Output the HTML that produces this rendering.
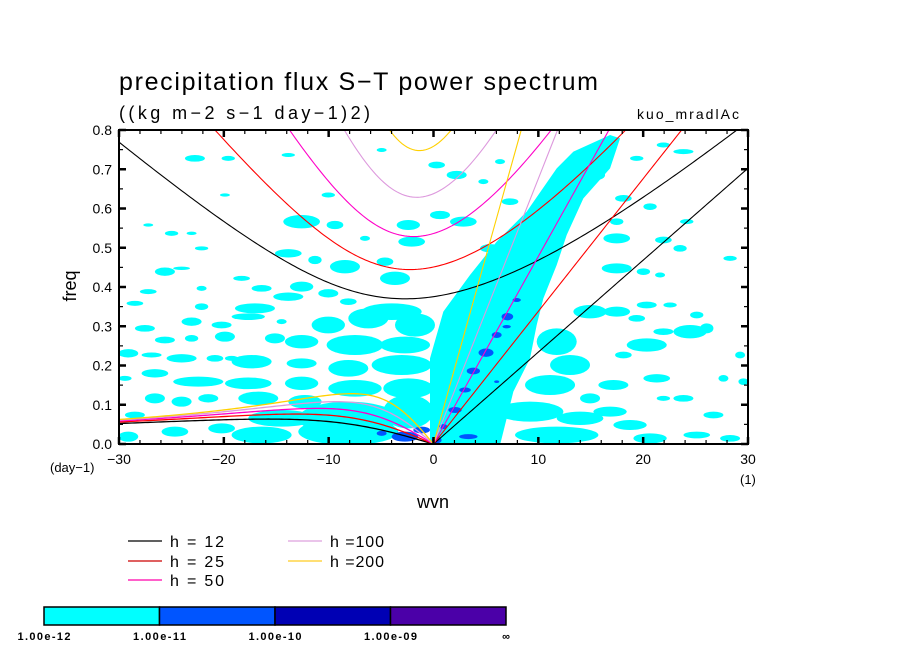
<!DOCTYPE html>
<html><head><meta charset="utf-8">
<style>
body{margin:0;background:#fff;}
svg{display:block;font-family:"Liberation Sans",sans-serif;}
</style></head>
<body>
<svg id="chart" width="904" height="654" viewBox="0 0 904 654" xmlns="http://www.w3.org/2000/svg">
<rect width="904" height="654" fill="#fff"/>
<defs><clipPath id="plotclip"><rect x="119" y="130" width="629" height="314"/></clipPath></defs>
<text x="119" y="90" font-size="25" textLength="479" lengthAdjust="spacing" fill="#000">precipitation flux S−T power spectrum</text>
<text x="119" y="119" font-size="18" textLength="251" lengthAdjust="spacing" fill="#000">((kg m−2 s−1 day−1)2)</text>
<text x="637" y="119" font-size="14" textLength="102" lengthAdjust="spacing" fill="#000">kuo_mradlAc</text>
<g id="field" clip-path="url(#plotclip)"></g>
<g id="curves" clip-path="url(#plotclip)"></g>
<g id="axes"></g>
<text x="0" y="0" font-size="18" transform="translate(76,286) rotate(-90)" text-anchor="middle">freq</text>
<text x="433" y="508" font-size="18" text-anchor="middle">wvn</text>
<text x="50" y="472" font-size="13">(day−1)</text>
<text x="740" y="484" font-size="13">(1)</text>
<g id="legend"></g>
<g id="colorbar"></g>
</svg>
<script>
// ---- data ----
var depths = [12, 25, 50, 100, 200];
var depthColors = ["#000000", "#ff0000", "#ff00c8", "#dd99dd", "#ffd000"];
var legendColors = ["#000000", "#cc0000", "#ff00aa", "#dda0dd", "#ffcc22"];
var legendLabels = ["h = 12", "h = 25", "h = 50", "h =100", "h =200"];
var xTicks = [-30, -20, -10, 0, 10, 20, 30];
var yTicks = [0.0, 0.1, 0.2, 0.3, 0.4, 0.5, 0.6, 0.7, 0.8];
var yTickLabels = ["0.0","0.1","0.2","0.3","0.4","0.5","0.6","0.7","0.8"];
var cbarColors = ["#00ffff", "#0055ff", "#0000b4", "#4b00a8"];
var cbarLabels = ["1.00e-12", "1.00e-11", "1.00e-10", "1.00e-09", "∞"];
// power field patches (reference-sampled): [x, y, w, h] in sample units
var fieldLeft = [[560,290,110,40],[660,300,50,25],[880,300,70,30],[890,350,80,30],[750,340,30,15],[520,385,80,25],[600,405,40,25],[810,410,50,25],[690,425,90,40],[840,460,90,40],[170,325,40,15],[230,325,30,10],[150,440,60,25],[200,430,50,10],[260,370,40,12],[380,460,50,15],[440,490,60,20],[560,485,70,30],[520,515,90,25],[640,505,60,25],[100,500,50,15],[260,490,30,15],[60,535,50,15],[260,545,40,20],[420,550,120,30],[700,530,50,20],[830,560,180,50],[230,590,60,25],[400,575,100,20],[320,600,60,20],[500,590,30,15],[640,600,100,50],[760,580,120,60],[900,600,120,70],[90,610,60,20],[150,645,60,20],[230,640,40,20],[330,635,60,30],[480,640,60,30],[560,650,100,40],[720,660,170,60],[870,660,150,50],[40,685,60,25],[110,690,60,15],[200,700,90,25],[300,700,50,20],[410,710,120,40],[560,715,90,30],[700,730,120,50],[860,720,180,60],[120,745,80,25],[250,770,150,30],[400,775,140,35],[560,775,100,40],[720,790,160,50],[880,790,150,60],[120,820,60,30],[200,830,60,30],[280,820,60,25],[430,820,120,40],[570,830,100,40],[60,870,60,20],[500,880,200,50],[700,880,300,100],[880,860,150,100],[40,935,60,30],[180,920,80,30],[320,910,80,30],[440,930,180,50],[700,920,300,80],[240,100,60,20],[340,100,40,15],[520,90,40,12],[800,75,30,12],[640,210,40,15],[330,210,30,10],[100,300,30,10],[350,700,40,15],[30,760,40,15]];
var fieldRight = [[380,650,120,80],[420,720,120,60],[360,780,150,60],[300,860,200,60],[450,880,140,40],[380,930,250,50],[540,860,100,30],[600,900,100,30],[650,660,120,40],[700,620,60,20],[780,620,100,40],[830,610,40,30],[560,560,80,30],[480,560,100,40],[650,540,60,20],[720,540,40,15],[800,570,40,20],[640,440,40,20],[690,450,30,15],[560,430,90,30],[560,340,80,30],[700,345,50,20],[770,290,40,15],[660,245,40,20],[580,220,50,20],[560,290,40,20],[500,150,50,30],[460,100,60,40],[620,100,40,15],[760,80,60,15],[700,60,40,15],[900,400,40,15],[930,690,30,20],[880,760,30,20],[760,820,60,20],[700,820,40,15],[850,870,60,20],[660,940,100,30],[800,930,80,20],[900,940,60,20],[940,770,30,20],[20,120,50,20],[80,150,60,25],[30,270,60,25],[180,370,60,25],[100,290,80,30],[240,230,50,20],[160,170,30,15],[210,110,30,15],[300,330,40,20],[330,290,40,20],[750,370,40,20],[620,580,50,20],[550,780,90,30],[480,820,60,30],[680,760,80,25],[580,690,50,20],[100,600,120,60],[60,800,120,80],[150,880,120,60],[60,680,80,40]];
var bandRight = [[0,960],[0,700],[40,560],[120,450],[200,350],[290,260],[380,130],[430,80],[540,30],[570,40],[540,130],[460,220],[410,330],[380,420],[340,520],[320,600],[300,700],[250,800],[210,960]];
var darkRight = [[260,525,25,12],[232,575,35,22],[230,605,25,10],[200,630,30,18],[168,683,45,25],[130,738,40,20],[105,795,35,15],[75,855,40,18],[40,905,25,15],[115,935,55,15],[20,945,30,20],[200,770,15,8]];
var darkLeft = [[870,935,80,30],[920,915,50,20],[800,925,30,15]];

// ---- axes ----
var X0=119, X1=748, Y0=444, Y1=130;
function xs(k){ return X0 + (k + 30) / 60 * (X1 - X0); }
function ys(f){ return Y0 - f / 0.8 * (Y0 - Y1); }
function sampK(X, off){ return (off + X/3 - 433.5) / 10.48; }
function sampF(Y){ return (444 - 125 - Y/3) / 392.5; }

var NS="http://www.w3.org/2000/svg";
function mk(tag, attrs, parent){
  var e=document.createElementNS(NS, tag);
  for (var a in attrs) e.setAttribute(a, attrs[a]);
  parent.appendChild(e); return e;
}
var field=document.getElementById('field');
function drawBlobs(list, off, color, name){
  list.forEach(function(b){
    var k=sampK(b[0],off), f=sampF(b[1]);
    var rk=b[2]/3/2/10.48, rf=b[3]/3/2/392.5;
    var e=mk('ellipse',{cx:xs(k),cy:ys(f),rx:xs(k+rk)-xs(k),ry:ys(f)-ys(f+rf),fill:color},field);
    
    
  });
}
drawBlobs(fieldLeft, 115, cbarColors[0], 'power-patch');
drawBlobs(fieldRight, 430, cbarColors[0], 'power-patch');
(function(){
  var pts=bandRight.map(function(p){ return xs(sampK(p[0],430))+','+ys(sampF(p[1])); }).join(' ');
  var e=mk('polygon',{points:pts,fill:cbarColors[0]},field);
  
  
})();
drawBlobs(darkRight, 430, cbarColors[1], 'strong-power-patch');
drawBlobs(darkLeft, 115, cbarColors[1], 'strong-power-patch');

// ---- dispersion curves ----
var g=9.81, a=6.371e6, Om=7.292e-5, beta=2*Om/a, toCpd=86400/(2*Math.PI);
function cubicRoot(kk, c, w){
  for (var i=0;i<60;i++){
    var F=w*w*w-(c*c*kk*kk+3*beta*c)*w-beta*c*c*kk;
    var D=3*w*w-(c*c*kk*kk+3*beta*c);
    if (Math.abs(D)<1e-30) break;
    w=w-F/D;
  }
  return w;
}
var curves=document.getElementById('curves');
depths.forEach(function(h, i){
  var c=Math.sqrt(g*h), col=depthColors[i];
  var ig=[], ro=[], kv=[];
  for (var s=-30; s<=30.001; s+=0.25){
    var kk=s/a;
    var w=cubicRoot(kk,c,Math.sqrt(c*c*kk*kk+3*beta*c)*1.2);
    ig.push(xs(s)+','+ys(w*toCpd));
    if (s<=0){
      var w0=-beta*kk/(kk*kk+3*beta/c);
      var wr=s===0?0:cubicRoot(kk,c,w0);
      ro.push(xs(s)+','+ys(wr*toCpd));
    }
    if (s>=0) kv.push(xs(s)+','+ys(c*kk*toCpd));
  }
  var e1=mk('polyline',{points:ig.join(' '),fill:'none',stroke:col,'stroke-width':1.1},curves);
  
  
  var e2=mk('polyline',{points:ro.join(' '),fill:'none',stroke:col,'stroke-width':1.3},curves);
  
  
  var e3=mk('polyline',{points:kv.join(' '),fill:'none',stroke:col,'stroke-width':1.1},curves);
  
  
});

// ---- axes frame & ticks ----
var axes=document.getElementById('axes');
var fr=mk('rect',{x:X0,y:Y1,width:X1-X0,height:Y0-Y1,fill:'none',stroke:'#000','stroke-width':2},axes);


for (var k=-30;k<=30;k+=2){
  var major=(k%10===0), L=major?7:4;
  mk('line',{x1:xs(k),x2:xs(k),y1:Y0,y2:Y0-L,stroke:'#000','stroke-width':major?2.5:1.2},axes);
  mk('line',{x1:xs(k),x2:xs(k),y1:Y1,y2:Y1+L,stroke:'#000','stroke-width':major?2.5:1.2},axes);
}
for (var j=0;j<=16;j++){
  var f=j*0.05, maj=(j%2===0), L2=maj?7:4;
  mk('line',{x1:X0,x2:X0+L2,y1:ys(f),y2:ys(f),stroke:'#000','stroke-width':maj?2.5:1.2},axes);
  mk('line',{x1:X1,x2:X1-L2,y1:ys(f),y2:ys(f),stroke:'#000','stroke-width':maj?2.5:1.2},axes);
}
xTicks.forEach(function(t){
  var e=mk('text',{x:xs(t),y:Y0+20,'font-size':14,'text-anchor':'middle'},axes);
  e.textContent=(t<0?'−'+(-t):String(t));
  
  
});
yTicks.forEach(function(t,i){
  var e=mk('text',{x:X0-7,y:ys(t)+5,'font-size':14,'text-anchor':'end'},axes);
  e.textContent=yTickLabels[i];
  
  
});

// ---- legend ----
var leg=document.getElementById('legend');
var lx=[128,128,128,288,288], ly=[541,561,580,541,561];
depths.forEach(function(h,i){
  var ln=mk('line',{x1:lx[i],x2:lx[i]+34,y1:ly[i],y2:ly[i],stroke:legendColors[i],'stroke-width':1.2},leg);
  
  
  var t=mk('text',{x:lx[i]+42,y:ly[i]+6,'font-size':16,'xml:space':'preserve',textLength:54,lengthAdjust:'spacing'},leg);
  t.textContent=legendLabels[i];
  
  
});

// ---- colorbar ----
var cb=document.getElementById('colorbar');
var cx0=44, cw=115.5;
cbarColors.forEach(function(col,i){
  var r=mk('rect',{x:cx0+i*cw,y:607,width:cw,height:18,fill:col,stroke:'#000','stroke-width':1.5},cb);
  
  
});
cbarLabels.forEach(function(lb,i){
  var attrs={x:cx0+i*cw,y:640,'font-size':11,'text-anchor':'middle','font-weight':'bold'};
  if (i<4){ attrs.textLength=53; attrs.lengthAdjust='spacing'; }
  var t=mk('text',attrs,cb);
  t.textContent=lb;
  
  
});
</script>
</body></html>
